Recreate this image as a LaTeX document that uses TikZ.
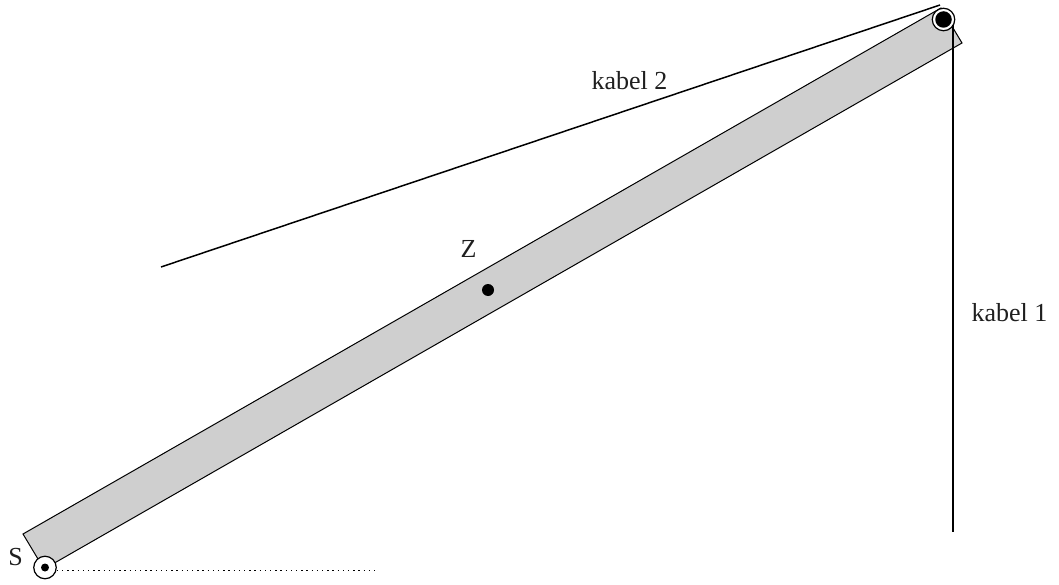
\documentclass[tikz,border=0pt]{standalone}
\usepackage{fontspec}
\setmainfont{Liberation Serif}
\tikzset{
  lbl/.style={inner sep=0pt,font=\fontsize{26}{30}\selectfont,text=black!88},
  bar/.style={draw=black,fill=black!19,line width=1pt},
  cable/.style={draw=black,line width=1.5pt},
  dotline/.style={draw=black,line width=1.4pt,dash pattern=on 1.4pt off 3.8pt},
  pivot/.style={circle,draw=black,fill=white,line width=1.2pt,inner sep=0pt,minimum size=22.5pt},
  blob/.style={circle,fill=black,draw=none,inner sep=0pt}
}
\begin{document}
\begin{tikzpicture}[x=1pt,y=-1pt]
\useasboundingbox (0,0) rectangle (1059,585);
\coordinate (c1) at (23,534);
\coordinate (c2) at (44,569);
\coordinate (c3) at (962,43);
\coordinate (c4) at (941,8);
\draw[bar] (c1) -- (c2) -- (c3) -- (c4) -- cycle;
\coordinate (k2a) at (161,267);
\coordinate (k2b) at (940,5);
\draw[cable] (k2a) -- (k2b);
\coordinate (k1a) at (953,22);
\coordinate (k1b) at (953,532);
\draw[cable] (k1a) -- (k1b);
\node[pivot] (top) at (943.5,19.5) {};
\node[blob,minimum size=16.5pt] (topdot) at (943.5,19.5) {};
\node[pivot] (bot) at (45,567.5) {};
\node[blob,minimum size=8pt] (botdot) at (45,567.5) {};
\coordinate (dotend) at (376,570.7);
\draw[dotline] (bot.east |- dotend) -- (dotend);
\node[blob,minimum size=12pt] (zdot) at (488,290) {};
\node[lbl] (z) at (468.5,249) {Z};
\node[lbl] (s) at (15.5,557) {S};
\node[lbl,anchor=base] (k2) at (629.5,90) {kabel 2};
\node[lbl,anchor=base east] (k1) at (1047.5,321) {kabel 1};
\end{tikzpicture}
\end{document}
